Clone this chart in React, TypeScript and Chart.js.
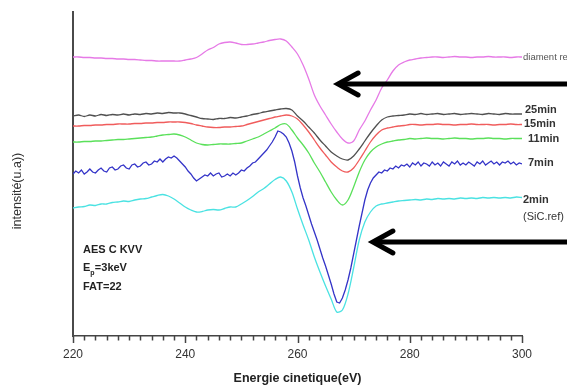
import React, { useEffect, useRef } from 'react';
import { Chart, registerables } from 'chart.js';

Chart.register(...registerables);

// Kinetic energy (eV)
const energyEV = [
  220, 221, 222, 223, 224, 225, 226, 227, 228, 229,
  230, 231, 232, 233, 234, 235, 236, 237, 238, 239,
  240, 241, 242, 243, 244, 245, 246, 247, 248, 249,
  250, 251, 252, 253, 254, 255, 256, 257, 258, 259,
  260, 261, 262, 263, 264, 265, 266, 267, 268, 269,
  270, 271, 272, 273, 274, 275, 276, 277, 278, 279,
  280, 281, 282, 283, 284, 285, 286, 287, 288, 289,
  290, 291, 292, 293, 294, 295, 296, 297, 298, 299,
  300,
];

// finer energy grid for the noisy 7min spectrum
const energyEVFine = [
  220, 220.5, 221, 221.5, 222, 222.5, 223, 223.5, 224, 224.5,
  225, 225.5, 226, 226.5, 227, 227.5, 228, 228.5, 229, 229.5,
  230, 230.5, 231, 231.5, 232, 232.5, 233, 233.5, 234, 234.5,
  235, 235.5, 236, 236.5, 237, 237.5, 238, 238.5, 239, 239.5,
  240, 240.5, 241, 241.5, 242, 242.5, 243, 243.5, 244, 244.5,
  245, 245.5, 246, 246.5, 247, 247.5, 248, 248.5, 249, 249.5,
  250, 250.5, 251, 251.5, 252, 252.5, 253, 253.5, 254, 254.5,
  255, 255.5, 256, 256.5, 257, 257.5, 258, 258.5, 259, 259.5,
  260, 260.5, 261, 261.5, 262, 262.5, 263, 263.5, 264, 264.5,
  265, 265.5, 266, 266.5, 267, 267.5, 268, 268.5, 269, 269.5,
  270, 270.5, 271, 271.5, 272, 272.5, 273, 273.5, 274, 274.5,
  275, 275.5, 276, 276.5, 277, 277.5, 278, 278.5, 279, 279.5,
  280, 280.5, 281, 281.5, 282, 282.5, 283, 283.5, 284, 284.5,
  285, 285.5, 286, 286.5, 287, 287.5, 288, 288.5, 289, 289.5,
  290, 290.5, 291, 291.5, 292, 292.5, 293, 293.5, 294, 294.5,
  295, 295.5, 296, 296.5, 297, 297.5, 298, 298.5, 299, 299.5,
  300,
];

// Intensity (a.u.), vertically offset spectra
const diamondRef = [
  279, 279, 278.5, 278.5, 278, 278, 277.5, 277.5, 277, 277,
  276.5, 276.5, 276, 275.5, 275.5, 275, 275, 275, 275, 275,
  276, 277, 278.5, 282, 286, 288.5, 292, 293.5, 294, 293,
  291.5, 291.5, 292, 293, 294, 295.5, 296.5, 297, 295, 289,
  282, 271, 257, 241, 230, 221, 212, 204, 197, 193,
  195, 206, 215, 226, 236, 248, 256, 265, 271, 274,
  276, 277, 278, 278.5, 279, 279, 278.5, 279, 279.5, 279,
  279, 278.5, 279, 279, 279.5, 279, 279, 279, 278.5, 279,
  279,
];

const min25 = [
  220, 221, 219.5, 221, 220, 221.5, 220.5, 221.5, 221, 222,
  221, 222, 221.5, 222.5, 222, 223, 222.5, 223.5, 223, 223,
  222, 220.5, 219, 217.5, 217, 216.5, 217.5, 217.5, 218.5, 218,
  219, 220, 221.5, 222.5, 224, 225, 226, 227, 227.5, 226,
  220, 215, 209, 203, 196, 190, 184, 180, 177, 176,
  180, 187, 195, 203, 210, 216, 219, 220, 220.5, 221,
  222, 221.5, 222.5, 221.5, 222, 222.5, 221.5, 222, 222.5, 221.5,
  222, 222.5, 222, 221.5, 222.5, 222, 221.5, 222.5, 222, 222,
  222,
];

const min15 = [
  210, 210, 210.5, 210.5, 211, 211, 211.5, 211.5, 212, 212,
  212, 212.5, 212.5, 213, 213, 213.5, 213.5, 214, 214, 214,
  213.5, 212.5, 211, 210, 209, 208.5, 208.5, 209, 209, 209.5,
  210, 211.5, 213, 214.5, 216, 217.5, 219, 220, 221, 220,
  217, 211, 204, 196, 188, 181, 174, 169, 165, 164,
  168, 176, 185, 194, 201, 206, 208, 209, 210, 210.5,
  211.5, 211.5, 211, 211.5, 211.5, 212, 211.5, 211.5, 211, 211.5,
  211.5, 212, 211.5, 211.5, 211.5, 211, 211.5, 211.5, 212, 211.5,
  211.5,
];

const min11 = [
  194, 194, 194.5, 194.5, 195, 195, 195.5, 196, 196.5, 196.5,
  197, 197.5, 198, 198.5, 199, 200, 201, 201.5, 202, 201,
  199, 196, 193, 191.5, 191, 191.5, 192, 192, 192, 192.5,
  193, 195, 197, 199, 202, 205, 208, 211.5, 212, 206,
  198, 191, 183, 173, 164, 154, 144, 136, 131, 136,
  149, 164, 176, 184, 189, 192, 194, 195, 196, 196.5,
  197.5, 197, 197.5, 198, 197.5, 197.5, 197, 197.5, 198, 197.5,
  197.5, 197, 197.5, 197.5, 198, 197.5, 197.5, 197, 197.5, 197.5,
  197.5,
];

// 7min spectrum, sampled on energyEVFine
const min7 = [
  162, 165, 163, 166, 162, 164, 167, 164, 163, 166,
  168, 165, 164, 168, 169, 166, 167, 170, 171, 168,
  167, 171, 172, 169, 170, 173, 174, 171, 172, 175,
  174, 177, 174, 177, 179, 178, 180, 178, 175, 172,
  169, 165, 162, 158, 155, 157, 159, 161, 160, 163,
  160, 162, 163, 159, 160, 162, 160, 163, 161, 163,
  166, 165, 168, 170, 173, 174, 177, 180, 183, 186,
  190, 194, 199, 205, 204, 202, 199, 193, 185, 174,
  160, 148, 138, 130, 121, 112, 104, 96, 87, 78,
  70, 61, 52, 42, 34, 33, 38, 46, 56, 68,
  82, 96, 110, 123, 136, 146, 153, 158, 161, 164,
  163, 166, 165, 168, 167, 170, 168, 171, 170, 172,
  169, 173, 171, 174, 170, 173, 172, 170, 174, 171,
  173, 170, 174, 172, 170, 174, 172, 175, 171, 173,
  171, 174, 172, 170, 174, 172, 175, 171, 173, 175,
  172, 174, 171, 174, 173, 175, 172, 174, 171, 173,
  172,
];

const min2SiC = [
  128, 129, 129.5, 131, 130.5, 132, 132, 133.5, 134, 135,
  134.5, 136, 137, 137.5, 139, 140.5, 141.5, 140, 137, 133,
  129, 126, 124, 124.5, 126, 126.5, 126, 127.5, 129, 129,
  132, 135.5, 139.5, 144, 147.5, 152, 156.5, 159, 155, 144,
  127, 111, 96, 79, 64, 50, 37, 24, 26, 42,
  68, 96, 114, 124, 130, 132, 133, 134, 135, 135.5,
  136, 136.5, 136, 137, 136.5, 137.5, 137, 137.5, 137, 138,
  137.5, 138, 137.5, 138.5, 138, 138.5, 138, 138.5, 138, 139,
  138.5,
];

const seriesNames = ['diament ref', '25min', '15min', '11min', '7min', '2min'];
const seriesSubLabel = '(SiC.ref)';
const xTickLabels = [220, 240, 260, 280, 300];
const xAxisTitle = 'Energie cinetique(eV)';
const yAxisTitle = 'intensité(u.a))';
const noteLines = ['AES C KVV', 'FAT=22'];
const noteEp = { main: 'E', sub: 'p', rest: '=3keV' };
// arrow tips in data coordinates (energy eV, intensity)
const arrowTipEnergy = [266.7, 272.9];
const arrowTipIntensity = [252, 94];

const seriesValues = [diamondRef, min25, min15, min11, min7, min2SiC];
const seriesEnergies = [energyEV, energyEV, energyEV, energyEV, energyEVFine, energyEV];
const seriesColors = ['#e67ae6', '#505050', '#f05c5c', '#5ae05a', '#3434c8', '#4ae2e2'];
const labelStyles = [
  { dx: 1, dy: 0, font: '9.5px "Liberation Sans", Arial, sans-serif', color: '#555' },
  { dx: 3, dy: -4, font: 'bold 11px "Liberation Sans", Arial, sans-serif', color: '#333' },
  { dx: 2, dy: -1, font: 'bold 11px "Liberation Sans", Arial, sans-serif', color: '#333' },
  { dx: 6, dy: 0, font: 'bold 11px "Liberation Sans", Arial, sans-serif', color: '#333' },
  { dx: 6, dy: -1, font: 'bold 11px "Liberation Sans", Arial, sans-serif', color: '#333' },
  { dx: 1, dy: 2, font: 'bold 11px "Liberation Sans", Arial, sans-serif', color: '#333' },
];

const decorPlugin = {
  id: 'decor',
  afterDraw(chart: any) {
    const { ctx, chartArea, scales } = chart;
    const xs = scales.x;
    const ys = scales.y;
    ctx.save();

    // x tick marks (minor every 2 eV, major every 20 eV)
    ctx.strokeStyle = '#444';
    ctx.lineWidth = 1.5;
    for (let e = 220; e <= 300; e += 2) {
      const px = Math.round(xs.getPixelForValue(e)) + 0.5;
      const major = e % 20 === 0;
      ctx.beginPath();
      ctx.moveTo(px, chartArea.bottom);
      ctx.lineTo(px, chartArea.bottom + (major ? 7 : 4.5));
      ctx.stroke();
    }

    // series labels at right end
    ctx.textBaseline = 'middle';
    ctx.textAlign = 'left';
    const xEnd = xs.getPixelForValue(energyEV[energyEV.length - 1]);
    seriesValues.forEach((vals, i) => {
      const st = labelStyles[i];
      const py = ys.getPixelForValue(vals[vals.length - 1]);
      ctx.font = st.font;
      ctx.fillStyle = st.color;
      ctx.fillText(seriesNames[i], xEnd + st.dx, py + st.dy);
      if (i === seriesValues.length - 1) {
        ctx.font = '11px "Liberation Sans", Arial, sans-serif';
        ctx.fillStyle = '#333';
        ctx.fillText(seriesSubLabel, xEnd + st.dx, py + st.dy + 17);
      }
    });

    // annotation block
    const nx = chartArea.left + 10;
    ctx.fillStyle = '#222';
    ctx.font = 'bold 11px "Liberation Sans", Arial, sans-serif';
    ctx.fillText(noteLines[0], nx, 250);
    ctx.fillText(noteEp.main, nx, 268);
    const ew = ctx.measureText(noteEp.main).width;
    ctx.font = 'bold 7px "Liberation Sans", Arial, sans-serif';
    ctx.fillText(noteEp.sub, nx + ew, 273);
    ctx.font = 'bold 11px "Liberation Sans", Arial, sans-serif';
    ctx.fillText(noteEp.rest, nx + ew + 4.5, 268);
    ctx.fillText(noteLines[1], nx, 287);

    // y axis title
    ctx.save();
    ctx.translate(18, 191);
    ctx.rotate(-Math.PI / 2);
    ctx.textAlign = 'center';
    ctx.font = '12.5px "Liberation Sans", Arial, sans-serif';
    ctx.fillStyle = '#333';
    ctx.fillText(yAxisTitle, 0, 0);
    ctx.restore();

    // arrows
    ctx.strokeStyle = '#000';
    ctx.lineWidth = 5;
    ctx.lineCap = 'round';
    ctx.lineJoin = 'miter';
    arrowTipEnergy.forEach((e, i) => {
      const tx = xs.getPixelForValue(e) + 3;
      const ty = ys.getPixelForValue(arrowTipIntensity[i]);
      ctx.beginPath();
      ctx.moveTo(tx + 2, ty);
      ctx.lineTo(chart.width + 5, ty);
      ctx.stroke();
      ctx.beginPath();
      ctx.moveTo(tx + 20, ty - 11);
      ctx.lineTo(tx, ty);
      ctx.lineTo(tx + 20, ty + 11);
      ctx.stroke();
    });

    ctx.restore();
  },
};

export default function App() {
  const ref = useRef<HTMLCanvasElement>(null);

  useEffect(() => {
    document.body.style.margin = '0';
    const canvas = ref.current;
    if (!canvas) return;
    const chart = new Chart(canvas, {
      type: 'line',
      data: {
        datasets: seriesValues.map((vals, i) => ({
          label: seriesNames[i],
          data: vals.map((v, k) => ({ x: seriesEnergies[i][k], y: v })),
          borderColor: seriesColors[i],
          backgroundColor: seriesColors[i],
          borderWidth: 1.3,
          pointRadius: 0,
          tension: i === 4 ? 0 : 0.3,
          fill: false,
        })),
      },
      options: {
        animation: false,
        responsive: false,
        events: [],
        layout: { padding: { left: 0, top: 12, right: 45, bottom: 0 } },
        plugins: {
          legend: { display: false },
          tooltip: { enabled: false },
        },
        scales: {
          x: {
            type: 'linear',
            min: 220,
            max: 300,
            grid: { display: false, drawTicks: false },
            border: { display: true, color: '#444', width: 1.5 },
            afterBuildTicks: (s: any) => {
              s.ticks = xTickLabels.map((v) => ({ value: v }));
            },
            ticks: {
              autoSkip: false,
              maxRotation: 0,
              padding: 11,
              color: '#333',
              font: { family: '"Liberation Sans", Arial, sans-serif', size: 12 },
            },
            title: {
              display: true,
              text: xAxisTitle,
              color: '#222',
              padding: { top: 0, bottom: 0 },
              font: { family: '"Liberation Sans", Arial, sans-serif', size: 12.5, weight: 'bold' },
            },
            afterFit: (s: any) => {
              s.height = 50;
            },
          },
          y: {
            min: 0,
            max: 324,
            grid: { display: false, drawTicks: false },
            border: { display: true, color: '#4a4a4a', width: 2 },
            ticks: { display: false },
            afterFit: (s: any) => {
              s.width = 73;
            },
          },
        },
      },
      plugins: [decorPlugin],
    } as any);
    return () => chart.destroy();
  }, []);

  return (
    <div style={{ width: 567, height: 386, background: '#fff' }}>
      <canvas ref={ref} width={567} height={386} />
    </div>
  );
}
